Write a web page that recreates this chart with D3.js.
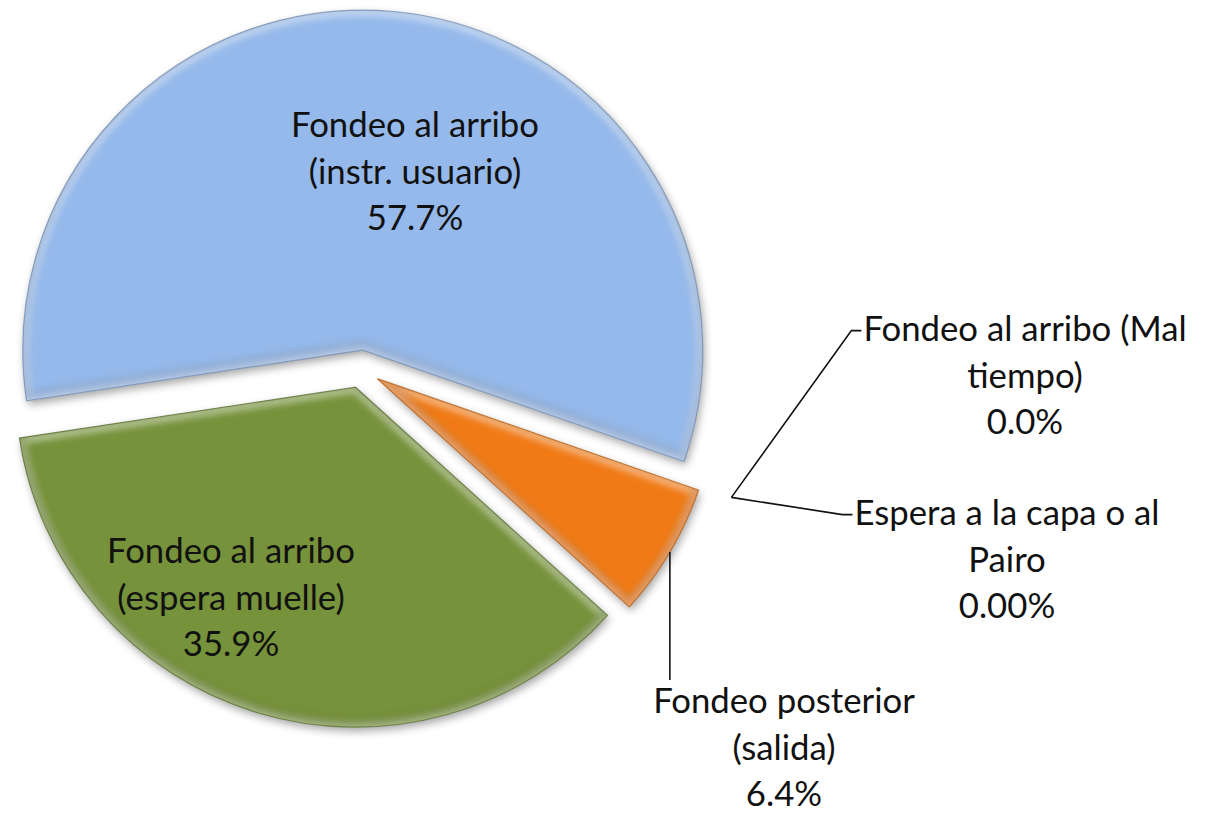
<!DOCTYPE html>
<html>
<head>
<meta charset="utf-8">
<script src="https://cdn.jsdelivr.net/npm/d3@7"></script>
<style>
  body { margin: 0; background: #fff; }
  text { font-family: Lato, "Open Sans", sans-serif; fill: #111; }
</style>
</head>
<body>
<div id="chart"></div>
<script>
// slice data, in drawing order (clockwise)
const categories = [
  "Fondeo al arribo (instr. usuario)",
  "Fondeo al arribo (Mal tiempo)",
  "Espera a la capa o al Pairo",
  "Fondeo posterior (salida)",
  "Fondeo al arribo (espera muelle)"
];
const values = [57.7, 0.0, 0.0, 6.4, 35.9];
const pctLabels = ["57.7%", "0.0%", "0.00%", "6.4%", "35.9%"];
const labelLines = [
  ["Fondeo al arribo", "(instr. usuario)"],
  ["Fondeo al arribo (Mal", "tiempo)"],
  ["Espera a la capa o al", "Pairo"],
  ["Fondeo posterior", "(salida)"],
  ["Fondeo al arribo", "(espera muelle)"]
];
const colors = ["#95b9ea", "#c0504d", "#8064a2", "#f07a16", "#76923b"];

const width = 1217, height = 813;
const cx = 361, cy = 369, radius = 340, explode = 19;
const startDeg = -98.6;

// label layout (center x, first baseline y), line gap
const labelPos = [
  {x: 415, y: 137},
  {x: 1025, y: 341},
  {x: 1007, y: 525},
  {x: 784, y: 713},
  {x: 231, y: 563}
];
const lineGap = 46.5;

const svg = d3.select("#chart").append("svg")
  .attr("width", width)
  .attr("height", height);

const defs = svg.append("defs");

const shadow = defs.append("filter").attr("id", "shadow")
  .attr("x", "-10%").attr("y", "-10%").attr("width", "120%").attr("height", "120%");
shadow.append("feDropShadow")
  .attr("dx", 2).attr("dy", 4).attr("stdDeviation", 4)
  .attr("flood-color", "#000").attr("flood-opacity", 0.35);

const soft = defs.append("filter").attr("id", "soft");
soft.append("feGaussianBlur").attr("stdDeviation", 3);

const pie = d3.pie()
  .sort(null)
  .value(d => d)
  .startAngle(startDeg * Math.PI / 180)
  .endAngle(startDeg * Math.PI / 180 + 2 * Math.PI);

const arcs = pie(values);
const arc = d3.arc().innerRadius(0).outerRadius(radius);

function offset(d) {
  const mid = (d.startAngle + d.endAngle) / 2;
  return [cx + explode * Math.sin(mid), cy - explode * Math.cos(mid)];
}

// slices
const slices = svg.append("g");
arcs.forEach((d, i) => {
  if (d.value === 0) return;
  const [ox, oy] = offset(d);
  const g = slices.append("g").attr("transform", `translate(${ox},${oy})`);
  const dark = d3.color(colors[i]).darker(0.9);

  defs.append("clipPath").attr("id", "clip" + i)
    .append("path").attr("d", arc(d));

  g.append("path")
    .attr("d", arc(d))
    .attr("fill", colors[i])
    .attr("filter", "url(#shadow)");

  // bevel: light inner rim, darker lower rim
  const bevel = g.append("g").attr("clip-path", `url(#clip${i})`);
  bevel.append("path")
    .attr("d", arc(d))
    .attr("fill", "none")
    .attr("stroke", "#fff")
    .attr("stroke-opacity", 0.45)
    .attr("stroke-width", 12)
    .attr("filter", "url(#soft)");
  bevel.append("path")
    .attr("d", arc(d))
    .attr("transform", "translate(0,-5)")
    .attr("fill", "none")
    .attr("stroke", dark)
    .attr("stroke-opacity", 0.35)
    .attr("stroke-width", 10)
    .attr("filter", "url(#soft)");

  g.append("path")
    .attr("d", arc(d))
    .attr("fill", "none")
    .attr("stroke", dark)
    .attr("stroke-opacity", 0.7)
    .attr("stroke-width", 1.2);
});

// font size picked so the widest line matches the reference width
const probe = svg.append("text").attr("font-size", 100).text("Fondeo al arribo");
const fontSize = 100 * 248 / probe.node().getComputedTextLength();
probe.remove();

// leader lines
const leader = d3.line();
const leaders = svg.append("g")
  .attr("fill", "none")
  .attr("stroke", "#111")
  .attr("stroke-width", 1.6);

arcs.forEach((d, i) => {
  const mid = (d.startAngle + d.endAngle) / 2;
  const [ox, oy] = offset(d);
  const p = labelPos[i];
  if (d.value === 0) {
    const rr = radius + 33;
    const s = [ox + rr * Math.sin(mid), oy - rr * Math.cos(mid)];
    const y = p.y - fontSize * 0.3;
    const half = textWidth(labelLines[i][0]) / 2;
    leaders.append("path").attr("d", leader([s, [p.x - half - 12, y], [p.x - half - 2, y]]));
  } else if (i === 3) {
    const s = [ox + radius * Math.sin(mid), oy - radius * Math.cos(mid)];
    leaders.append("path").attr("d", leader([s, [s[0], p.y - fontSize * 0.95]]));
  }
});

function textWidth(str) {
  const t = svg.append("text").attr("font-size", fontSize).text(str);
  const w = t.node().getComputedTextLength();
  t.remove();
  return w;
}

// labels
const labels = svg.append("g");
arcs.forEach((d, i) => {
  const p = labelPos[i];
  const t = labels.append("text")
    .attr("text-anchor", "middle")
    .attr("font-size", fontSize);
  labelLines[i].concat([pctLabels[i]]).forEach((line, k) => {
    t.append("tspan")
      .attr("x", p.x)
      .attr("y", p.y + k * lineGap)
      .text(line);
  });
});
</script>
</body>
</html>
